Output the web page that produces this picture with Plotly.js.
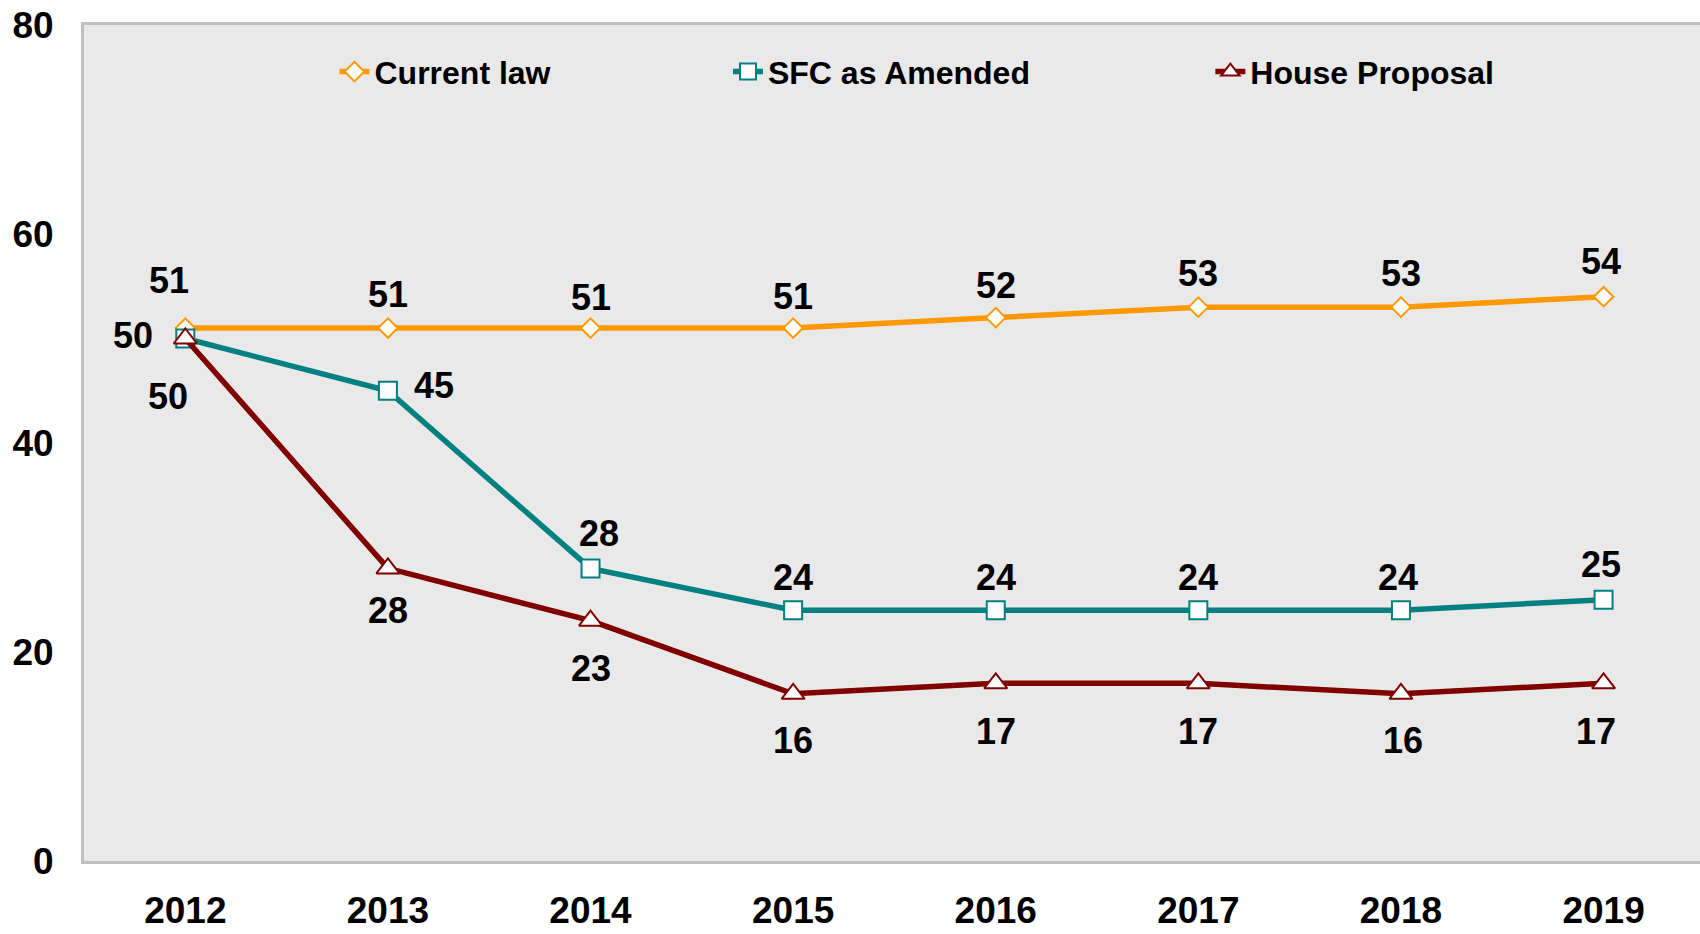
<!DOCTYPE html>
<html><head><meta charset="utf-8">
<script src="https://cdn.plot.ly/plotly-3.0.1.min.js"></script>
<style>html,body{margin:0;padding:0;background:#fff}#chart{width:1700px;height:934px}#err{position:absolute;left:300px;top:400px;font:20px sans-serif;color:red}</style>
</head><body><div id="chart"></div><div id="err"></div>
<script>
window.onerror = function(m){ document.getElementById('err').textContent += ' ' + m; };
// ---- data ----
const years = ['2012','2013','2014','2015','2016','2017','2018','2019'];
const currentLaw = [51, 51, 51, 51, 52, 53, 53, 54];
const sfcAmended = [50, 45, 28, 24, 24, 24, 24, 25];
const houseProposal = [50, 28, 23, 16, 17, 17, 16, 17];
const seriesNames = ['Current law', 'SFC as Amended', 'House Proposal'];
const yTicks = [0, 20, 40, 60, 80];

// ---- label placement (pixel shifts, styling only) ----
const shiftCurrent = [[-16,48],[0,34],[0,31],[0,32],[0,32],[0,34],[0,34],[-3,35]];
const shiftSfc = [[-52,3],[46,5],[8,35],[0,33],[0,33],[0,33],[-3,33],[-3,35]];
const shiftHouse = [[-17,-58],[0,-42],[0,-48],[0,-47],[0,-48],[0,-48],[2,-47],[-8,-48]];

const colors = ['#FF9900', '#008080', '#800000'];
const symbols = ['diamond', 'square', 'triangle-up'];
const sizes = [15, 18, 20];
const allSeries = [currentLaw, sfcAmended, houseProposal];
const allShifts = [shiftCurrent, shiftSfc, shiftHouse];
const legendIds = ['legend', 'legend2', 'legend3'];
const FAMILY = 'Liberation Sans, Arial, sans-serif';

const traces = allSeries.map((vals, k) => ({
  type: 'scatter',
  mode: 'lines+markers',
  name: seriesNames[k],
  x: years,
  y: vals,
  legend: legendIds[k],
  cliponaxis: false,
  line: {color: colors[k], width: 5.5},
  marker: {symbol: symbols[k], size: sizes[k], color: '#ffffff', line: {color: colors[k], width: 2}}
}));

const annotations = [];
allSeries.forEach((vals, k) => {
  vals.forEach((v, i) => {
    annotations.push({
      x: i, y: v, xref: 'x', yref: 'y',
      text: '<b>' + v + '</b>', showarrow: false,
      xanchor: 'center', yanchor: 'middle',
      xshift: allShifts[k][i][0], yshift: allShifts[k][i][1],
      font: {family: FAMILY, size: 36, color: '#000000'}
    });
  });
});

const legendBase = {
  orientation: 'h', yanchor: 'middle', xanchor: 'left', y: 0.944,
  bgcolor: 'rgba(0,0,0,0)', borderwidth: 0,
  font: {family: FAMILY, size: 32, color: '#000', weight: 'bold'}
};

const layout = {
  width: 1700, height: 934,
  margin: {l: 84, r: 0, t: 25, b: 73, pad: 0},
  paper_bgcolor: '#ffffff',
  plot_bgcolor: '#e9e9e9',
  font: {family: FAMILY, size: 37, color: '#000', weight: 'bold'},
  showlegend: true,
  xaxis: {
    type: 'category', range: [-0.5, 7.476],
    showgrid: false, zeroline: false,
    showline: true, linecolor: '#c0c0c0', linewidth: 3, mirror: true,
    ticks: '', ticklabelstandoff: 15,
    tickfont: {family: FAMILY, size: 37, color: '#000', weight: 'bold'}
  },
  yaxis: {
    range: [0, 80], tickvals: yTicks, ticktext: yTicks.map(String),
    showgrid: false, zeroline: false,
    showline: true, linecolor: '#c0c0c0', linewidth: 3,
    ticks: '', ticklabelstandoff: 20,
    tickfont: {family: FAMILY, size: 37, color: '#000', weight: 'bold'}
  },
  legend: Object.assign({}, legendBase, {x: 0.155}),
  legend2: Object.assign({}, legendBase, {x: 0.3985}),
  legend3: Object.assign({}, legendBase, {x: 0.697}),
  annotations: annotations
};

Plotly.newPlot('chart', traces, layout, {displayModeBar: false}).catch(function(e){
  document.getElementById('err').textContent += ' ' + e;
});
</script>
</body></html>
